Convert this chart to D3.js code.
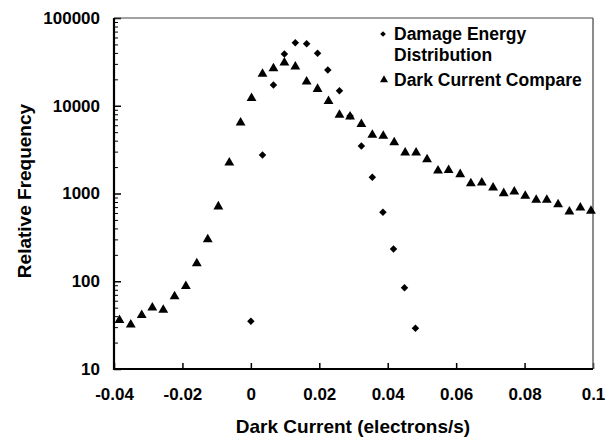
<!DOCTYPE html>
<html>
<head>
<meta charset="utf-8">
<script src="https://cdn.jsdelivr.net/npm/d3@7"></script>
<style>
  body { margin: 0; background: #fff; }
  text { font-family: "Liberation Sans", Arial, sans-serif; font-weight: bold; }
</style>
</head>
<body>
<div id="chart"></div>
<script>
// Dark Current Compare (triangles)
const darkX = [-0.0384, -0.0351, -0.0319, -0.0288, -0.0256, -0.0223, -0.019, -0.0158, -0.0126, -0.0095,
    -0.0063, -0.003, 0.0002, 0.0034, 0.0066, 0.0098, 0.013, 0.0163, 0.0195, 0.0227,
    0.0259, 0.029, 0.0323, 0.0355, 0.0387, 0.0419, 0.0451, 0.0483, 0.0515, 0.0547,
    0.0578, 0.0612, 0.0643, 0.0675, 0.0708, 0.0739, 0.077, 0.0802, 0.0834, 0.0865,
    0.0898, 0.0931, 0.0963, 0.0994];
const darkY = [36, 32, 41, 50, 47, 67, 88, 160, 300, 710,
    2250, 6400, 12200, 23000, 26700, 31000, 27900, 18800, 15500, 11300,
    7850, 7500, 6150, 4640, 4520, 3830, 2920, 2920, 2450, 1820,
    1840, 1655, 1306, 1328, 1165, 1005, 1050, 937, 843, 843,
    753, 621, 689, 632];

// Damage Energy Distribution (diamonds)
const damageX = [0, 0.0034, 0.0066, 0.0098, 0.013, 0.0163, 0.0195, 0.0225,
    0.0259, 0.029, 0.0323, 0.0355, 0.0386, 0.0417, 0.0449, 0.0481];
const damageY = [35, 2750, 17200, 38900, 52300, 50900, 39600, 25500,
    14850, 7640, 3480, 1530, 611, 233, 84.5, 29.1];

const xTicks = [-0.04, -0.02, 0, 0.02, 0.04, 0.06, 0.08, 0.1];
const yTicks = [10, 100, 1000, 10000, 100000];
const legendLabels = [["Damage Energy", "Distribution"], ["Dark Current Compare"]];

const W = 613, H = 438;
const margin = { top: 18, right: 20, bottom: 69, left: 114 };

const svg = d3.select("#chart")
    .append("svg")
    .attr("width", W)
    .attr("height", H);

const x = d3.scaleLinear()
    .domain([-0.04, 0.1])
    .range([margin.left, W - margin.right]);

const y = d3.scaleLog()
    .domain([10, 100000])
    .range([H - margin.bottom, margin.top]);

// minor ticks on the log axis (2..9 of each decade)
const yMinor = [];
yTicks.slice(0, -1).forEach(d => {
    for (let k = 2; k <= 9; k++) yMinor.push(d * k);
});

svg.append("g")
    .attr("transform", `translate(${margin.left},0)`)
    .call(d3.axisLeft(y).tickValues(yMinor).tickSize(-4).tickFormat(""))
    .call(g => g.select(".domain").remove())
    .call(g => g.selectAll("line").attr("stroke", "#000").attr("stroke-width", 1));

svg.append("g")
    .attr("transform", `translate(${margin.left},0)`)
    .call(d3.axisLeft(y).tickValues(yTicks).tickSize(-7).tickPadding(14).tickFormat(d => String(d)))
    .call(g => g.select(".domain").remove())
    .call(g => g.selectAll("line").attr("stroke", "#000").attr("stroke-width", 1.5))
    .call(g => g.selectAll("text").attr("font-size", 17).attr("fill", "#000"));

svg.append("g")
    .attr("transform", `translate(0,${H - margin.bottom})`)
    .call(d3.axisBottom(x).tickValues(xTicks).tickSize(-6).tickPadding(19).tickFormat(d => String(d)))
    .call(g => g.select(".domain").remove())
    .call(g => g.selectAll("line").attr("stroke", "#000").attr("stroke-width", 1.5))
    .call(g => g.selectAll("text").attr("font-size", 17).attr("fill", "#000"));

// frame: heavy left/bottom, light top/right
const x0 = margin.left, x1 = W - margin.right, y0 = margin.top, y1 = H - margin.bottom;
svg.append("line").attr("x1", x0).attr("x2", x1).attr("y1", y0).attr("y2", y0)
    .attr("stroke", "#444").attr("stroke-width", 1);
svg.append("line").attr("x1", x1).attr("x2", x1).attr("y1", y0).attr("y2", y1)
    .attr("stroke", "#666").attr("stroke-width", 1.5);
svg.append("line").attr("x1", x0).attr("x2", x0).attr("y1", y0).attr("y2", y1 + 1)
    .attr("stroke", "#000").attr("stroke-width", 2.2);
svg.append("line").attr("x1", x0 - 1).attr("x2", x1).attr("y1", y1).attr("y2", y1)
    .attr("stroke", "#000").attr("stroke-width", 2.2);

// points
const tri = d3.symbol().type(d3.symbolTriangle).size(42);
const dia = d3.symbol().type(d3.symbolSquare).size(28); // rotated 45deg -> square diamond

svg.append("g").selectAll("path")
    .data(darkX.map((d, i) => [d, darkY[i]]))
    .join("path")
    .attr("d", tri)
    .attr("transform", d => `translate(${x(d[0])},${y(d[1])})`)
    .attr("fill", "#000");

svg.append("g").selectAll("path")
    .data(damageX.map((d, i) => [d, damageY[i]]))
    .join("path")
    .attr("d", dia)
    .attr("transform", d => `translate(${x(d[0])},${y(d[1])}) rotate(45)`)
    .attr("fill", "#000");

// legend
const legend = svg.append("g");
legend.append("path").attr("d", d3.symbol().type(d3.symbolSquare).size(16))
    .attr("transform", "translate(383,34) rotate(45)");
legend.append("text").attr("x", 394).attr("y", 34).attr("dy", "0.36em")
    .attr("font-size", 17.5).text(legendLabels[0][0]);
legend.append("text").attr("x", 394).attr("y", 55).attr("dy", "0.36em")
    .attr("font-size", 17.5).text(legendLabels[0][1]);
legend.append("path").attr("d", d3.symbol().type(d3.symbolTriangle).size(28))
    .attr("transform", "translate(384,80)");
legend.append("text").attr("x", 394).attr("y", 80).attr("dy", "0.36em")
    .attr("font-size", 17.5).text(legendLabels[1][0]);

// axis titles
svg.append("text")
    .attr("x", 353).attr("y", 426).attr("dy", "0.36em")
    .attr("text-anchor", "middle")
    .attr("font-size", 19)
    .text("Dark Current (electrons/s)");

svg.append("text")
    .attr("transform", "translate(24,191) rotate(-90)")
    .attr("dy", "0.36em")
    .attr("text-anchor", "middle")
    .attr("font-size", 19)
    .text("Relative Frequency");
</script>
</body>
</html>
